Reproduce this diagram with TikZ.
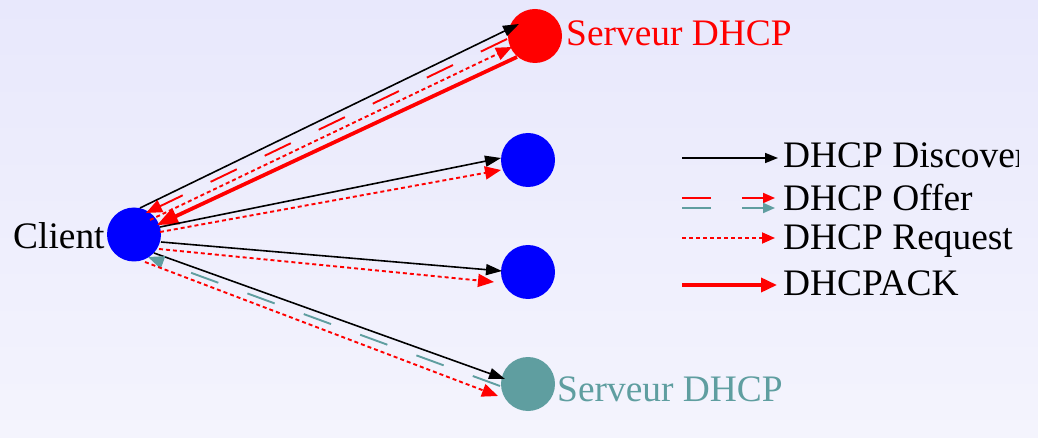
\documentclass[tikz,border=0pt]{standalone}
\usepackage{fontspec}
\setmainfont{Liberation Serif}
\usetikzlibrary{arrows.meta,calc}
\definecolor{bgtop}{RGB}{232,232,252}
\definecolor{bgbot}{RGB}{244,244,253}
\definecolor{cadet}{RGB}{95,158,160}
\begin{document}
\begin{tikzpicture}[x=1pt,y=-1pt,
  dot/.style={circle,minimum size=54pt,inner sep=0pt,draw=none},
  lbl/.style={anchor=base west,inner sep=0pt,font=\fontsize{37.4}{40}\selectfont},
  disc/.style={black,line width=1.6pt,-{Triangle[length=16pt,width=11pt]}},
  offer/.style={line width=1.9pt,dash pattern=on 29pt off 31pt,-{Triangle[length=16pt,width=13pt]}},
  req/.style={red,line width=1.9pt,dash pattern=on 4pt off 3pt,-{Triangle[length=16pt,width=13pt]}},
  ack/.style={red,line width=3.8pt,-{Triangle[length=21pt,width=17pt]}},
  ldisc/.style={black,line width=1.6pt,-{Triangle[length=13pt,width=10pt]}},
  loffer/.style={line width=1.9pt,dash pattern=on 29pt off 31pt,-{Triangle[length=12pt,width=10pt]}},
  lreq/.style={red,line width=1.9pt,dash pattern=on 4pt off 3pt,-{Triangle[length=13pt,width=11pt]}},
  lack/.style={red,line width=3.6pt,-{Triangle[length=16pt,width=14pt]}}]
\shade[top color=bgtop,bottom color=bgbot] (0,0) rectangle (1038,438);
\useasboundingbox (0,0) rectangle (1038,438);

% nodes
\node[dot,fill=blue] (c) at (134,234.5) {};
\node[dot,fill=red] (s1) at (535,36) {};
\node[dot,fill=blue] (s2) at (528,160) {};
\node[dot,fill=blue] (s3) at (528,272) {};
\node[dot,fill=cadet] (s4) at (528,384) {};

\node[lbl] (cl) at (13,248) {Client};
\node[lbl,text=red] (s1l) at (566,46) {Serveur DHCP};
\node[lbl,text=cadet] (s4l) at (557,401) {Serveur DHCP};

% server 1
\draw[disc] ($(c)+(6,-26.5)$) -- ($(s1)+(-16,-12)$);
\draw[offer,red] ($(s1)+(-28,3)$) -- ($(c)+(12,-21.5)$);
\draw[req] ($(c)+(16,-14.5)$) -- ($(s1)+(-23,11)$);
\draw[ack] ($(s1)+(-18,21)$) -- ($(c)+(23,-9.5)$);
% server 2
\draw[disc] ($(c)+(26,-7.5)$) -- ($(s2)+(-27,-2)$);
\draw[req] ($(c)+(26,-2.5)$) -- ($(s2)+(-27,10)$);
% server 3
\draw[disc] ($(c)+(27,7.5)$) -- ($(s3)+(-26,-1)$);
\draw[req] ($(c)+(25,14.5)$) -- ($(s3)+(-34,10)$);
% server 4
\draw[disc] ($(c)+(20,18.5)$) -- ($(s4)+(-23,-5)$);
\draw[offer,cadet] ($(s4)+(-28,2)$) -- ($(c)+(14,22.5)$);
\draw[req] ($(c)+(11,27.5)$) -- ($(s4)+(-30,12)$);

% legend
\coordinate (la1) at (682,158); \coordinate (lb1) at (778,158);
\coordinate (la2) at (682,198); \coordinate (lb2) at (775,198);
\coordinate (la3) at (682,208); \coordinate (lb3) at (775,208);
\coordinate (la4) at (682,238); \coordinate (lb4) at (775,238);
\coordinate (la5) at (682,285); \coordinate (lb5) at (777,285);
\draw[ldisc] (la1) -- (lb1);
\draw[loffer,red] (la2) -- (lb2);
\draw[loffer,cadet] (la3) -- (lb3);
\draw[lreq] (la4) -- (lb4);
\draw[lack] (la5) -- (lb5);
\begin{scope}
\clip (0,0) rectangle (1018,438);
\node[lbl] (t1) at (783,168) {DHCP Discover};
\end{scope}
\node[lbl] (t2) at (783,211) {DHCP Offer};
\node[lbl] (t3) at (783,250) {DHCP Request};
\node[lbl] (t4) at (783,295) {DHCPACK};
\end{tikzpicture}
\end{document}
